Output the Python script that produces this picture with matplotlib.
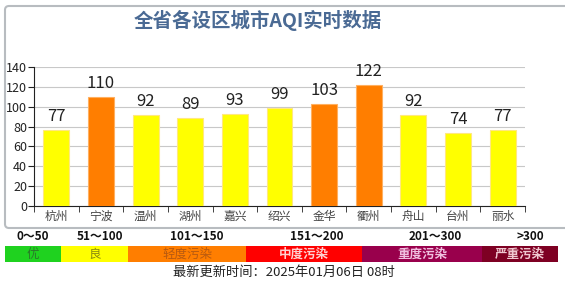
import matplotlib
matplotlib.use("Agg")
import matplotlib.pyplot as plt
from matplotlib.patches import FancyBboxPatch, Rectangle

plt.rcParams['font.family'] = ['Noto Sans CJK SC', 'DejaVu Sans']

cities = ["杭州", "宁波", "温州", "湖州", "嘉兴", "绍兴", "金华", "衢州", "舟山", "台州", "丽水"]
aqi = [77, 110, 92, 89, 93, 99, 103, 122, 92, 74, 77]
yticks = [0, 20, 40, 60, 80, 100, 120, 140]
ranges = ["0～50", "51～100", "101～150", "151～200", "201～300", ">300"]
levels = ["优", "良", "轻度污染", "中度污染", "重度污染", "严重污染"]
level_colors = ["#1fd21f", "#ffff00", "#ff7e00", "#ff0000", "#99004c", "#7e0023"]
level_text_colors = ["#2a7a2a", "#8a8a10", "#b85a10", "#ffd0d0", "#f0c0e0", "#f0c8d0"]
title = "全省各设区城市AQI实时数据"
update_text = "最新更新时间：2025年01月06日 08时"

W, H = 565, 283
fig = plt.figure(figsize=(W / 100, H / 100), dpi=100)

# background frame
bg = fig.add_axes([0, 0, 1, 1])
bg.set_xlim(0, W)
bg.set_ylim(H, 0)
bg.axis("off")
bg.add_patch(FancyBboxPatch((5, 6), 570, 222, boxstyle="round,pad=0,rounding_size=4",
                            fc="white", ec="#b8bcc0", lw=1.5))
bg.text(258, 20, title, ha="center", va="center", fontsize=14, fontweight="bold",
        color="#4a6a94")

# legend bar
seg_edges = [5, 61, 128, 246, 362, 482, 558]
range_x = [33, 100, 197, 317, 435, 530]
for i in range(6):
    x0, x1 = seg_edges[i], seg_edges[i + 1]
    bg.add_patch(Rectangle((x0, 246), x1 - x0, 16, fc=level_colors[i], ec="none"))
    bg.text((x0 + x1) / 2, 254.5, levels[i], ha="center", va="center", fontsize=9,
            color=level_text_colors[i], fontweight="bold" if i >= 3 else "normal")
    bg.text(range_x[i], 237, ranges[i], ha="center", va="center", fontsize=8.5,
            fontweight="bold", color="#111111")
bg.text(284, 272, update_text, ha="center", va="center", fontsize=9.5, color="#222222")

# main axes
left, right, y0, ytop = 34, 525, 206, 67
ax = fig.add_axes([left / W, (H - y0) / H, (right - left) / W, (y0 - ytop) / H])
ax.set_facecolor("none")
x = list(range(len(cities)))
colors = ["#ff7e00" if v > 100 else "#ffff00" for v in aqi]
bars = ax.bar(x, aqi, width=0.58, color=colors, edgecolor=[
    "#ffe880" if v <= 100 else "#ffb060" for v in aqi], linewidth=0.8, zorder=3)
for xi, v in zip(x, aqi):
    ax.text(xi, v + 5, str(v), ha="center", va="bottom", fontsize=12, color="#222222")
ax.set_xlim(-0.5, len(cities) - 0.5)
ax.set_ylim(0, 140)
ax.set_yticks(yticks)
ax.tick_params(axis="y", labelsize=9, colors="#222222", length=4, pad=1)
ax.set_xticks(x)
ax.set_xticklabels(cities)
ax.set_xticks([i - 0.5 for i in range(len(cities) + 1)], minor=True)
ax.tick_params(axis="x", which="major", length=0, labelsize=8.5, colors="#444444", pad=3)
ax.tick_params(axis="x", which="minor", length=4, color="#222222")
ax.grid(axis="y", color="#c8c8c8", lw=0.8, zorder=0)
for s in ["top", "right"]:
    ax.spines[s].set_visible(False)
ax.spines["left"].set_color("#222222")
ax.spines["bottom"].set_color("#222222")

fig.savefig("out.png", dpi=100)
